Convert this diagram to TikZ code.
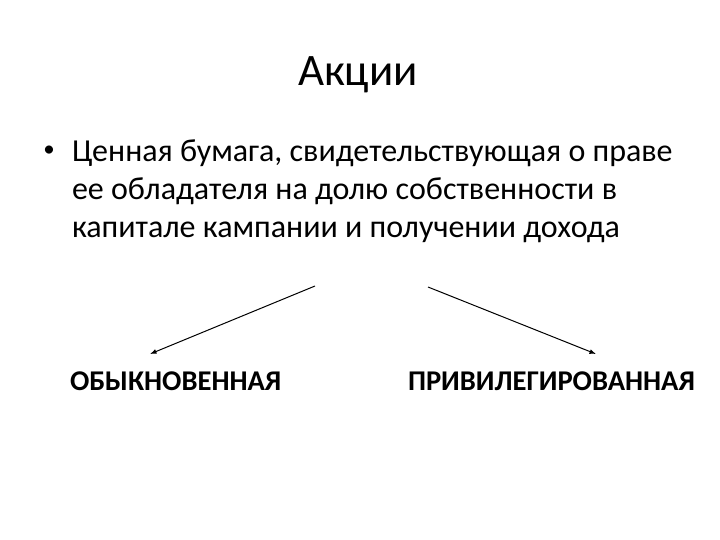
\documentclass[tikz,border=0pt]{standalone}
\usepackage{fontspec}
\setmainfont{Carlito}
\usetikzlibrary{arrows.meta}
\tikzset{
  txt/.style={inner sep=0pt, outer sep=0pt},
  body/.style={inner sep=0pt, outer sep=0pt, anchor=base west, font=\fontsize{32}{36}\selectfont},
  lbl/.style={inner sep=0pt, outer sep=0pt, anchor=base west, font=\fontsize{28.6}{30}\selectfont\bfseries},
  arr/.style={line width=1pt, -{Latex[length=6.5pt,width=5pt]}}
}
\begin{document}
\begin{tikzpicture}[x=1pt,y=-1pt]
\useasboundingbox (0,0) rectangle (720,540);
\node[txt, anchor=base, font=\fontsize{45}{48}\selectfont] (title) at (358,86) {Акции};
\node[txt, anchor=base, font=\fontsize{23}{26}\selectfont] (bullet) at (49,157) {•};
\node[body] (l1) at (72,162) {Ценная бумага, свидетельствующая о праве};
\node[body] (l2) at (72,199.5) {ее обладателя на долю собственности в};
\node[body] (l3) at (72,237) {капитале кампании и получении дохода};
\node[lbl] (ord) at (70,390) {ОБЫКНОВЕННАЯ};
\node[lbl] (pref) at (408,390) {ПРИВИЛЕГИРОВАННАЯ};
\coordinate (a1) at (315,286);
\coordinate (a2) at (150,354);
\coordinate (b1) at (428,287);
\coordinate (b2) at (596,354);
\draw[arr] (a1) -- (a2);
\draw[arr] (b1) -- (b2);
\end{tikzpicture}
\end{document}
